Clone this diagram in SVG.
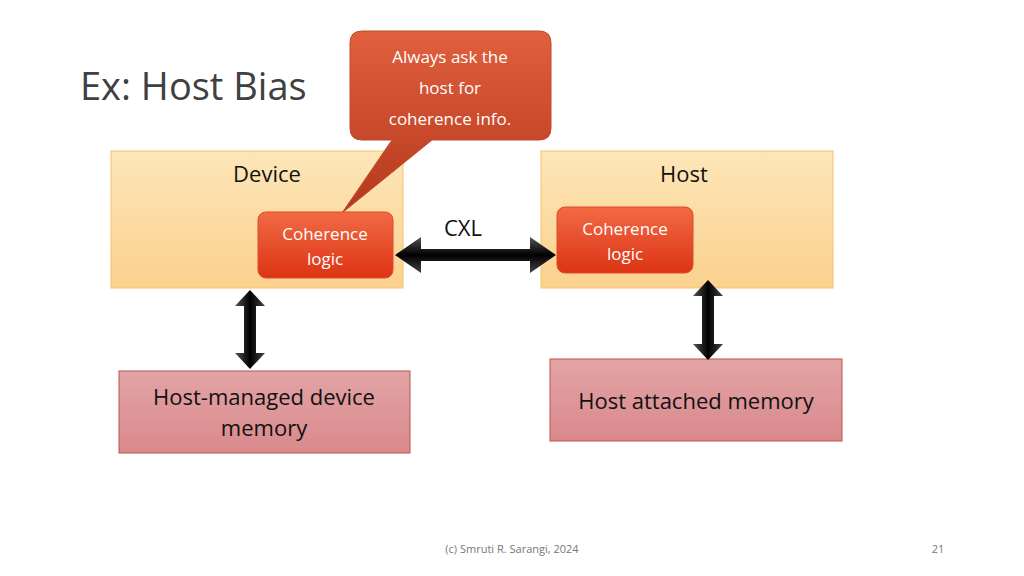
<svg xmlns="http://www.w3.org/2000/svg" width="1024" height="576" viewBox="0 0 1024 576">
<defs>
<linearGradient id="org" x1="0" y1="0" x2="0" y2="1"><stop offset="0" stop-color="#fde6b8"/><stop offset="1" stop-color="#fbd18e"/></linearGradient>
<linearGradient id="red" x1="0" y1="0" x2="0" y2="1"><stop offset="0" stop-color="#f26a45"/><stop offset="1" stop-color="#dc3414"/></linearGradient>
<linearGradient id="call" x1="0" y1="0" x2="0" y2="1"><stop offset="0" stop-color="#e0603e"/><stop offset="1" stop-color="#b5381c"/></linearGradient>
<linearGradient id="mem" x1="0" y1="0" x2="0" y2="1"><stop offset="0" stop-color="#e3a4a6"/><stop offset="1" stop-color="#d9898c"/></linearGradient>
<linearGradient id="arr" x1="0" y1="0" x2="0" y2="1"><stop offset="0" stop-color="#555"/><stop offset="0.5" stop-color="#000"/><stop offset="1" stop-color="#444"/></linearGradient>
<linearGradient id="arrv" x1="0" y1="0" x2="1" y2="0"><stop offset="0" stop-color="#555"/><stop offset="0.5" stop-color="#000"/><stop offset="1" stop-color="#444"/></linearGradient>
</defs>
<style>
text{font-family:"Open Sans","Liberation Sans",sans-serif}
.box{fill:url(#org);stroke:#f4c46a;stroke-width:1}
.cl{fill:url(#red);stroke:#e04a2a}
.mem{fill:url(#mem);stroke:#c0504d;stroke-width:1}
.w{fill:#fff;font-size:17px;text-anchor:middle}
.k{fill:#111;font-size:22px;text-anchor:middle}
</style>
<rect width="1024" height="576" fill="#fff"/>
<text x="80" y="100" font-size="38" fill="#404040">Ex: Host Bias</text>
<g id="device"><rect class="box" x="111" y="151" width="292" height="137"/><text class="k" x="267" y="182">Device</text></g>
<g id="host"><rect class="box" x="541" y="151" width="292" height="137"/><text class="k" x="684" y="182">Host</text></g>
<g id="callout"><path d="M362,31 H539 Q551,31 551,43 V128 Q551,140 539,140 H432 L342,213 L392,140 H362 Q350,140 350,128 V43 Q350,31 362,31 Z" fill="url(#call)" stroke="#c04a2a"/>
<text class="w" x="450" y="63" font-size="20">Always ask the</text><text class="w" x="450" y="94" font-size="20">host for</text><text class="w" x="450" y="125" font-size="20">coherence info.</text></g>
<g id="dcl"><rect class="cl" x="258" y="212" width="135" height="66" rx="8"/><text class="w" x="325" y="240">Coherence</text><text class="w" x="325" y="265">logic</text></g>
<g id="hcl"><rect class="cl" x="557" y="207" width="136" height="66" rx="8"/><text class="w" x="625" y="235">Coherence</text><text class="w" x="625" y="260">logic</text></g>
<g id="dmem"><rect class="mem" x="119" y="371" width="291" height="82"/><text class="k" x="264" y="405">Host-managed device</text><text class="k" x="264" y="436">memory</text></g>
<g id="hmem"><rect class="mem" x="550" y="359" width="292" height="82"/><text class="k" x="696" y="409">Host attached memory</text></g>
<g id="connectors">
<path d="M395,255 L421,237 V249 H530 V237 L556,255 L530,273 V261 H421 V273 Z" fill="url(#arr)"/>
<text x="463" y="236" font-size="22" text-anchor="middle" fill="#111">CXL</text>
<path d="M250,290 L265,306 H256 V353 H265 L250,369 L235,353 H244 V306 H235 Z" fill="url(#arrv)"/>
<path d="M708,280 L723,296 H714 V344 H723 L708,360 L693,344 H702 V296 H693 Z" fill="url(#arrv)"/>
</g>
<text x="512" y="553" font-size="11" fill="#777" text-anchor="middle">(c) Smruti R. Sarangi, 2024</text>
<text x="938" y="553" font-size="11" fill="#777" text-anchor="middle">21</text>
</svg>
